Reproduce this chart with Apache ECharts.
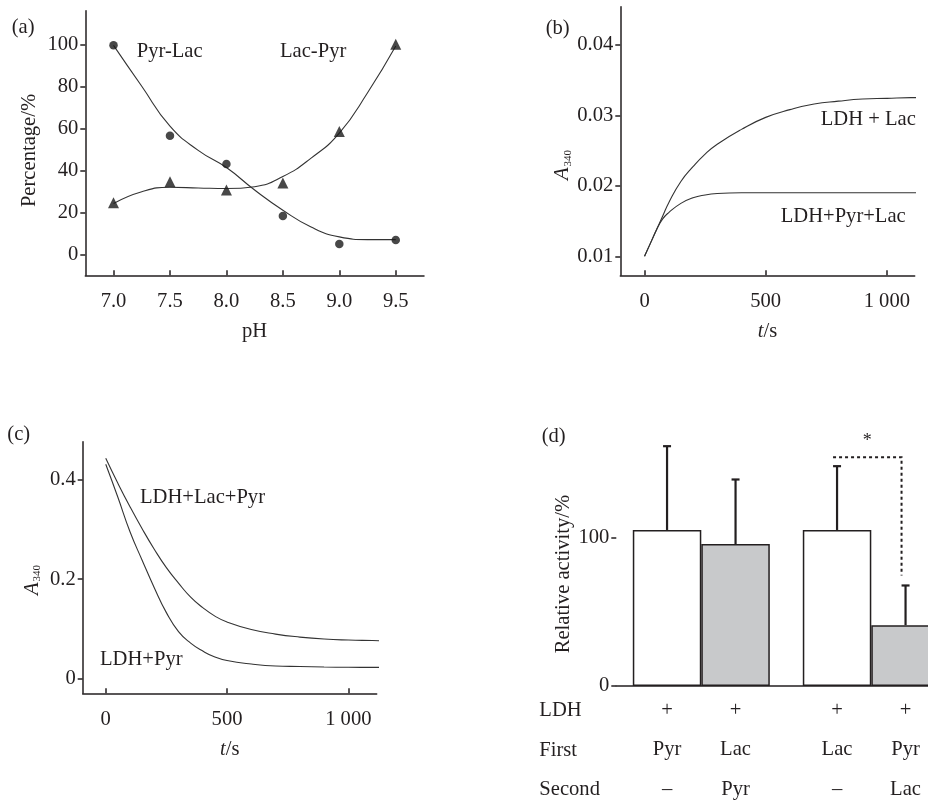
<!DOCTYPE html>
<html>
<head>
<meta charset="utf-8">
<script src="https://cdn.jsdelivr.net/npm/echarts@6/dist/echarts.min.js"></script>
<style>
html,body{margin:0;padding:0;background:#fff;}
#chart{width:928px;height:804px;}
</style>
</head>
<body>
<div id="chart"></div>
<script>
// ---------- Panel (a) ----------
const pHPoints = [7.0, 7.5, 8.0, 8.5, 9.0, 9.5];
const pyrLacPoints = [99.5, 56.5, 43.0, 18.2, 4.9, 6.8];
const lacPyrPoints = [24.5, 34.6, 30.6, 34.0, 58.5, 100.0];
const pHCurve = [7.0, 7.25, 7.5, 7.75, 8.0, 8.25, 8.5, 8.75, 9.0, 9.25, 9.5];
const pyrLacCurve = [99.5, 80.0, 61.0, 49.5, 41.3, 30.6, 21.0, 13.0, 8.3, 7.0, 7.0];
const lacPyrCurve = [24.2, 29.8, 31.9, 31.6, 31.3, 32.2, 37.0, 45.8, 57.7, 76.9, 99.2];
const pHTicks = [7.0, 7.5, 8.0, 8.5, 9.0, 9.5];
const percentTicks = [0, 20, 40, 60, 80, 100];

// ---------- Panel (b) ----------
const timeB = [0, 25, 50, 75, 100, 150, 200, 250, 300, 400, 500, 600, 700, 800, 900, 1000, 1100, 1180];
const ldhLac = [0.0100, 0.0119, 0.0138, 0.0157, 0.0176, 0.0206, 0.0227, 0.0245, 0.0259, 0.0280, 0.0297, 0.0308, 0.0316, 0.0320, 0.0323, 0.0324, 0.0325, 0.0325];
const ldhPyrLac = [0.0100, 0.0119, 0.0138, 0.0153, 0.0162, 0.0175, 0.0183, 0.0187, 0.0189, 0.0190, 0.0190, 0.0190, 0.0190, 0.0190, 0.0190, 0.0190, 0.0190, 0.0190];
const a340TicksB = [0.01, 0.02, 0.03, 0.04];

// ---------- Panel (c) ----------
const timeC = [0, 50, 100, 150, 200, 250, 300, 350, 400, 450, 500, 600, 700, 800, 900, 1000, 1100, 1190];
const ldhLacPyr = [0.442, 0.392, 0.345, 0.301, 0.260, 0.223, 0.192, 0.164, 0.143, 0.126, 0.114, 0.099, 0.090, 0.084, 0.080, 0.078, 0.077, 0.076];
const ldhPyr = [0.430, 0.364, 0.295, 0.238, 0.183, 0.133, 0.095, 0.072, 0.056, 0.044, 0.037, 0.030, 0.026, 0.025, 0.024, 0.0235, 0.0234, 0.0234];
const a340TicksC = [0, 0.2, 0.4];

const timeTicks = [0, 500, 1000];
const timeTickLabels = ['0', '500', '1 000'];

// ---------- Panel (d) ----------
const groups = ['Group 1', 'Group 2'];
const barValues = [105.4, 95.9, 105.4, 41.1];   // bar order: left-to-right
const barErrors = [56.6, 43.6, 43.1, 26.8];
const rowNames = ['LDH', 'First', 'Second'];
const ldhRow = ['+', '+', '+', '+'];
const firstRow = ['Pyr', 'Lac', 'Lac', 'Pyr'];
const secondRow = ['–', 'Pyr', '–', 'Lac'];
const activityTicks = [0, 100];
const bracketTop = 154.6;
const bracketBottom = 74.7;

// ---------- styles ----------
const FONT = 'Liberation Serif';
const FS = 20.6;
const CSSFONT = FS + 'px "Liberation Serif"';
const INK = '#231f20';
const BAR_W = 68.5;
const CAP_W = 8;
const BRACKET_SHIFT = 4;

const zip = (xs, ys) => xs.map((x, i) => [x, ys[i]]);

const chart = echarts.init(document.getElementById('chart'), null, {renderer: 'canvas'});

function baseAxis(extra) {
  return Object.assign({
    axisLine: {onZero: false, lineStyle: {color: INK, width: 1.5}},
    splitLine: {show: false},
    nameLocation: 'middle',
    nameTextStyle: {fontFamily: FONT, fontSize: FS, color: INK},
  }, extra);
}
function xValueAxis(grid, min, max, ticks, fmt, name, rich) {
  return baseAxis({
    type: 'value', gridIndex: grid, min: min, max: max,
    axisTick: {show: true, inside: true, length: 5, lineStyle: {color: INK, width: 1.5}, customValues: ticks},
    axisLabel: {customValues: ticks, formatter: fmt, margin: 16, fontFamily: FONT, fontSize: FS, color: INK},
    name: name, nameGap: 46,
    nameTextStyle: {fontFamily: FONT, fontSize: FS, color: INK, rich: rich}
  });
}
function yValueAxis(grid, min, max, ticks, fmt, name, gap, shift, rich) {
  return baseAxis({
    type: 'value', gridIndex: grid, min: min, max: max,
    axisTick: {show: true, inside: false, length: 5, lineStyle: {color: INK, width: 1.5}, customValues: ticks},
    axisLabel: {customValues: ticks, formatter: fmt, margin: 7, fontFamily: FONT, fontSize: FS, color: INK},
    name: name, nameGap: gap,
    nameTextStyle: {fontFamily: FONT, fontSize: FS, color: INK, padding: [0, shift, 0, 0], rich: rich}
  });
}

const a340Rich = {
  i: {fontFamily: FONT, fontSize: FS, fontStyle: 'italic', color: INK},
  s: {fontFamily: FONT, fontSize: 11, color: INK, verticalAlign: 'bottom', lineHeight: 20, padding: [8, 0, 0, 1]}
};
const tRich = {
  i: {fontFamily: FONT, fontSize: FS, fontStyle: 'italic', color: INK},
  n: {fontFamily: FONT, fontSize: FS, color: INK}
};
const timeFmt = v => timeTickLabels[timeTicks.indexOf(v)];

const curveStyle = {color: '#333', width: 1.1};

function barLabel(globalIndex) {
  return ldhRow[globalIndex] + '\n' + firstRow[globalIndex] + '\n' + secondRow[globalIndex];
}

const errorData = barValues.map((v, i) => [Math.floor(i / 2), v, barErrors[i], i % 2 === 0 ? -1 : 1]);

function txt(x, y, text) {
  return {type: 'text', x: x, y: y, style: {text: text, font: CSSFONT, fill: INK, textVerticalAlign: 'middle'}};
}

const option = {
  animation: false,
  backgroundColor: '#ffffff',
  grid: [
    {left: 85.3, top: 10.7, width: 338.7, height: 264.6, containLabel: false, outerBoundsMode: 'none'},
    {left: 620.3, top: 6.7, width: 294.4, height: 268.6, containLabel: false, outerBoundsMode: 'none'},
    {left: 82.7, top: 441.7, width: 294, height: 251.6, containLabel: false, outerBoundsMode: 'none'},
    {left: 616.3, top: 437.3, width: 340, height: 248.7, containLabel: false, outerBoundsMode: 'none'}
  ],
  xAxis: [
    xValueAxis(0, 6.75, 9.75, pHTicks, v => v.toFixed(1), 'pH'),
    xValueAxis(1, -100, 1115, timeTicks, timeFmt, '{i|t}{n|/s}', tRich),
    xValueAxis(2, -95, 1117, timeTicks, timeFmt, '{i|t}{n|/s}', tRich),
    baseAxis({
      type: 'category', gridIndex: 3, data: groups, boundaryGap: true,
      axisTick: {show: false}, axisLabel: {show: false}
    })
  ],
  yAxis: [
    yValueAxis(0, -10, 116, percentTicks, v => String(v), 'Percentage/%', 45, 15),
    yValueAxis(1, 0.0073, 0.0454, a340TicksB, v => v.toFixed(2), '{i|A}{s|340}', 44, 48, a340Rich),
    yValueAxis(2, -0.0286, 0.4753, a340TicksC, v => (v === 0 ? '0' : v.toFixed(1)), '{i|A}{s|340}', 40, 25, a340Rich),
    yValueAxis(3, 0, 168, activityTicks, v => String(v), 'Relative activity/%', 41, 25)
  ],
  series: [
    // (a)
    {name: 'Pyr-Lac fit', type: 'line', xAxisIndex: 0, yAxisIndex: 0, data: zip(pHCurve, pyrLacCurve),
      smooth: true, showSymbol: false, lineStyle: curveStyle, z: 2},
    {name: 'Lac-Pyr fit', type: 'line', xAxisIndex: 0, yAxisIndex: 0, data: zip(pHCurve, lacPyrCurve),
      smooth: true, showSymbol: false, lineStyle: curveStyle, z: 2},
    {name: 'Pyr-Lac', type: 'scatter', xAxisIndex: 0, yAxisIndex: 0, data: zip(pHPoints, pyrLacPoints),
      symbol: 'circle', symbolSize: 8.5, itemStyle: {color: '#1a1a1a'}, z: 3},
    {name: 'Lac-Pyr', type: 'scatter', xAxisIndex: 0, yAxisIndex: 0, data: zip(pHPoints, lacPyrPoints),
      symbol: 'triangle', symbolSize: 11, itemStyle: {color: '#1a1a1a'}, z: 3},
    // (b)
    {name: 'LDH + Lac', type: 'line', xAxisIndex: 1, yAxisIndex: 1, data: zip(timeB, ldhLac),
      smooth: true, showSymbol: false, clip: false, lineStyle: curveStyle},
    {name: 'LDH+Pyr+Lac', type: 'line', xAxisIndex: 1, yAxisIndex: 1, data: zip(timeB, ldhPyrLac),
      smooth: true, showSymbol: false, clip: false, lineStyle: curveStyle},
    // (c)
    {name: 'LDH+Lac+Pyr', type: 'line', xAxisIndex: 2, yAxisIndex: 2, data: zip(timeC, ldhLacPyr),
      smooth: true, showSymbol: false, clip: false, lineStyle: curveStyle},
    {name: 'LDH+Pyr', type: 'line', xAxisIndex: 2, yAxisIndex: 2, data: zip(timeC, ldhPyr),
      smooth: true, showSymbol: false, clip: false, lineStyle: curveStyle},
    // (d)
    {name: 'Single substrate', type: 'bar', xAxisIndex: 3, yAxisIndex: 3,
      data: [barValues[0], barValues[2]], barWidth: BAR_W, barGap: '0%',
      itemStyle: {color: '#ffffff', borderColor: INK, borderWidth: 1.5},
      label: {show: true, position: 'bottom', distance: 5, formatter: p => barLabel(p.dataIndex * 2),
        fontFamily: FONT, fontSize: FS, lineHeight: 39.3, color: INK, align: 'center'}},
    {name: 'Two substrates', type: 'bar', xAxisIndex: 3, yAxisIndex: 3,
      data: [barValues[1], barValues[3]], barWidth: BAR_W, barGap: '0%',
      itemStyle: {color: '#c8c9cb', borderColor: INK, borderWidth: 1.5},
      label: {show: true, position: 'bottom', distance: 5, formatter: p => barLabel(p.dataIndex * 2 + 1),
        fontFamily: FONT, fontSize: FS, lineHeight: 39.3, color: INK, align: 'center'}},
    {name: 'Error', type: 'custom', xAxisIndex: 3, yAxisIndex: 3, data: errorData, z: 5,
      renderItem: function (params, api) {
        const cat = api.value(0), val = api.value(1), err = api.value(2), side = api.value(3);
        const base = api.coord([cat, val]);
        const top = api.coord([cat, val + err]);
        const x = base[0] + side * BAR_W / 2;
        const st = {stroke: INK, lineWidth: 2.2};
        return {type: 'group', children: [
          {type: 'line', shape: {x1: x, y1: base[1], x2: x, y2: top[1]}, style: st},
          {type: 'line', shape: {x1: x - CAP_W / 2, y1: top[1], x2: x + CAP_W / 2, y2: top[1]}, style: st}
        ]};
      }},
    {name: 'Significance', type: 'custom', xAxisIndex: 3, yAxisIndex: 3, data: [[1, bracketTop, bracketBottom]], z: 5,
      renderItem: function (params, api) {
        const c = api.coord([api.value(0), api.value(1)]);
        const b = api.coord([api.value(0), api.value(2)]);
        const x3 = c[0] - BAR_W / 2 - BRACKET_SHIFT;
        const x4 = c[0] + BAR_W / 2 - BRACKET_SHIFT;
        return {type: 'group', children: [
          {type: 'polyline', shape: {points: [[x3, c[1]], [x4, c[1]], [x4, b[1]]]},
            style: {stroke: INK, lineWidth: 2, lineDash: [3, 3], fill: null}},
          {type: 'text', style: {text: '*', x: (x3 + x4) / 2, y: c[1] - 7, font: '18px "Liberation Serif"',
            fill: INK, textAlign: 'center', textVerticalAlign: 'bottom'}}
        ]};
      }}
  ],
  graphic: [
    txt(11.7, 28, '(a)'),
    txt(545.7, 29, '(b)'),
    txt(7.3, 435, '(c)'),
    txt(541.7, 437, '(d)'),
    txt(136.7, 52, 'Pyr-Lac'),
    txt(280, 52, 'Lac-Pyr'),
    txt(820.7, 119.3, 'LDH + Lac'),
    txt(780.7, 217, 'LDH+Pyr+Lac'),
    txt(140, 497.3, 'LDH+Lac+Pyr'),
    txt(100, 659.3, 'LDH+Pyr'),
    txt(539.3, 710.7, rowNames[0]),
    txt(539.3, 751, rowNames[1]),
    txt(539.3, 789.3, rowNames[2])
  ]
};
chart.setOption(option);
</script>
</body>
</html>
